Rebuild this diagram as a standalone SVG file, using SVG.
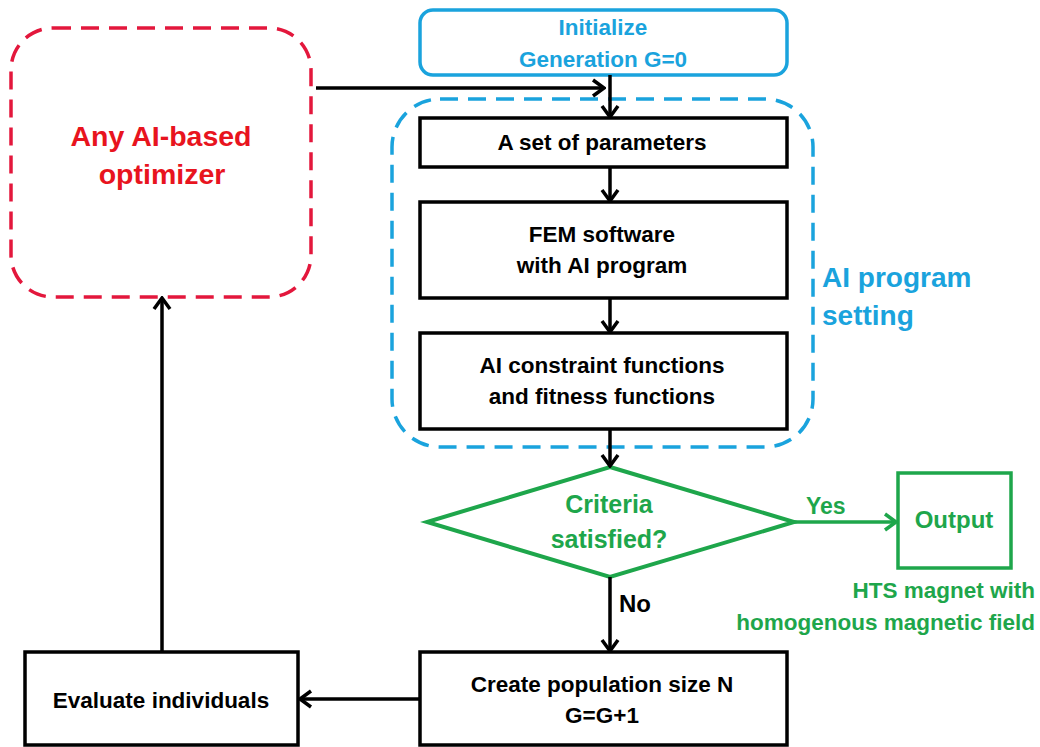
<svg xmlns="http://www.w3.org/2000/svg" width="1040" height="747" viewBox="0 0 1040 747">
  <style>
    text { font-family: "Liberation Sans", Arial, sans-serif; font-weight: bold; }
    .t { font-size: 22.5px; fill: #000; text-anchor: middle; }
    .box { fill: #fff; stroke: #000; stroke-width: 3.5; }
    .blue { fill: #1aa3dd; }
    .green { fill: #1ea64b; }
    .red { fill: #e8141e; }
    .conn { fill: none; stroke: #000; stroke-width: 3.5; }
  </style>
  <defs>
    <marker id="ah" markerUnits="userSpaceOnUse" viewBox="0 0 16 20" markerWidth="16" markerHeight="20" refX="14" refY="10" orient="auto">
      <path d="M3,2 L14,10 L3,18" fill="none" stroke="#000" stroke-width="3.5"/>
    </marker>
    <marker id="ahg" markerUnits="userSpaceOnUse" viewBox="0 0 16 20" markerWidth="16" markerHeight="20" refX="14" refY="10" orient="auto">
      <path d="M3,2 L14,10 L3,18" fill="none" stroke="#1ea64b" stroke-width="3.5"/>
    </marker>
  </defs>
  <rect width="1040" height="747" fill="#fff"/>

  <g id="optimizer">
    <rect x="11" y="28" width="300" height="269" rx="42" fill="none" stroke="#e3173c" stroke-width="3.5" stroke-dasharray="18 10"/>
    <text class="red" x="161" y="146" font-size="28.5" text-anchor="middle">Any AI-based</text>
    <text class="red" x="162" y="184" font-size="28.5" text-anchor="middle">optimizer</text>
  </g>

  <g id="ai-setting">
    <rect x="392" y="99" width="421" height="348" rx="48" fill="none" stroke="#1aa3dd" stroke-width="3.5" stroke-dasharray="18 10"/>
    <text class="blue" x="822" y="287" font-size="28">AI program</text>
    <text class="blue" x="822" y="325" font-size="28">setting</text>
  </g>

  <g id="initialize">
    <rect x="420" y="10" width="367" height="65" rx="13" fill="#fff" stroke="#1aa3dd" stroke-width="3.5"/>
    <text class="blue" x="603" y="35" font-size="22.5" text-anchor="middle">Initialize</text>
    <text class="blue" x="603" y="67" font-size="22.5" text-anchor="middle">Generation G=0</text>
  </g>

  <g id="params">
    <rect class="box" x="420" y="118" width="367" height="49"/>
    <text class="t" x="602" y="150">A set of parameters</text>
  </g>

  <g id="fem">
    <rect class="box" x="420" y="202" width="367" height="96"/>
    <text class="t" x="602" y="242">FEM software</text>
    <text class="t" x="602" y="273">with AI program</text>
  </g>

  <g id="constraints">
    <rect class="box" x="420" y="333" width="367" height="96"/>
    <text class="t" x="602" y="373">AI constraint functions</text>
    <text class="t" x="602" y="404">and fitness functions</text>
  </g>

  <g id="criteria">
    <polygon points="610,467 794,522 610,577 427,522" fill="#fff" stroke="#1ea64b" stroke-width="4"/>
    <text class="green" x="609" y="513" font-size="25" text-anchor="middle">Criteria</text>
    <text class="green" x="609" y="548" font-size="25" text-anchor="middle">satisfied?</text>
  </g>

  <g id="output">
    <rect x="898" y="473" width="113" height="95" fill="#fff" stroke="#1ea64b" stroke-width="3.5"/>
    <text class="green" x="954" y="528" font-size="24" text-anchor="middle">Output</text>
    <text class="green" x="1035" y="598" font-size="22.5" text-anchor="end">HTS magnet with</text>
    <text class="green" x="1035" y="630" font-size="22.5" text-anchor="end">homogenous magnetic field</text>
  </g>

  <g id="create">
    <rect class="box" x="420" y="652" width="367" height="93"/>
    <text class="t" x="602" y="692">Create population size N</text>
    <text class="t" x="602" y="723">G=G+1</text>
  </g>

  <g id="evaluate">
    <rect class="box" x="25" y="652" width="273" height="93"/>
    <text class="t" x="161" y="708">Evaluate individuals</text>
  </g>

  <g id="connectors">
    <path class="conn" d="M316,88 H604" marker-end="url(#ah)"/>
    <path class="conn" d="M610,75 V117" marker-end="url(#ah)"/>
    <path class="conn" d="M610,167 V201" marker-end="url(#ah)"/>
    <path class="conn" d="M610,298 V332" marker-end="url(#ah)"/>
    <path class="conn" d="M610,429 V466" marker-end="url(#ah)"/>
    <path d="M794,522 H896" fill="none" stroke="#1ea64b" stroke-width="3.5" marker-end="url(#ahg)"/>
    <text class="green" x="806" y="514" font-size="23">Yes</text>
    <path class="conn" d="M610,577 V651" marker-end="url(#ah)"/>
    <text x="619" y="612" font-size="24" fill="#000">No</text>
    <path class="conn" d="M420,699 H300" marker-end="url(#ah)"/>
    <path class="conn" d="M162,652 V298" marker-end="url(#ah)"/>
  </g>
</svg>
